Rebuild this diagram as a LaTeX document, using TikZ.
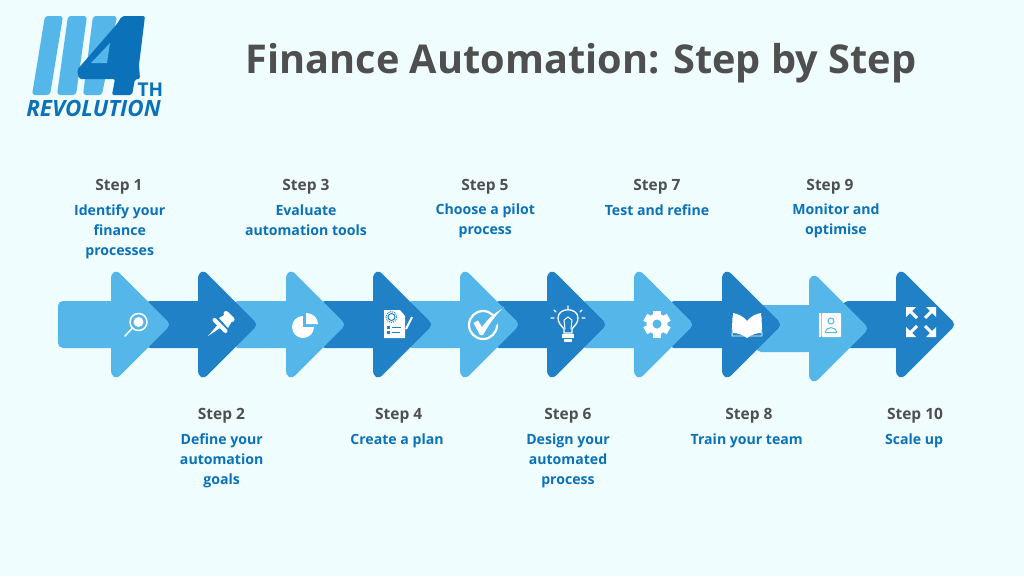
\documentclass[tikz,border=0pt]{standalone}
\usepackage{fontspec}
\setmainfont{Open Sans}
\definecolor{fondo}{HTML}{EFFDFF}
\definecolor{claro}{HTML}{54B6E9}
\definecolor{oscuro}{HTML}{2181C6}
\definecolor{logoazul}{HTML}{0B72B9}
\definecolor{gris}{HTML}{4F4F4F}
\tikzset{
    steptitle/.style={text=gris, font=\bfseries\fontsize{15.5}{20}\selectfont},
    steptext/.style={text=logoazul, align=center, font=\bfseries\fontsize{14.1}{19.8}\selectfont},
    icono/.style={draw=white, line width=1.5pt, line cap=round, line join=round},
}
% flecha: x de la cabeza, centro y, color
\newcommand{\flecha}[3]{
    \fill[#3, rounded corners=5pt] (#1-53,#2-23.5) rectangle (#1+5,#2+23.5);
    \fill[#3] (#1,#2+45) -- (#1,#2-45) .. controls (#1,#2-53.5) and (#1+5.5,#2-55.5) .. (#1+10.6,#2-49.4) -- (#1+56.5,#2-3.5) .. controls (#1+58.6,#2-1.4) and (#1+58.6,#2+1.4) .. (#1+56.5,#2+3.5) -- (#1+10.6,#2+49.4) .. controls (#1+5.5,#2+55.5) and (#1,#2+53.5) .. (#1,#2+45) -- cycle;
}
\begin{document}
\begin{tikzpicture}[x=1pt,y=-1pt]
    \useasboundingbox (0,0) rectangle (1024,576);
    \fill[fondo] (0,0) rectangle (1024,576);

    % Logo
    \fill[claro, rounded corners=3pt] (45,16) -- (63,16) -- (50,95) -- (32,95) -- cycle;
    \fill[claro, rounded corners=3pt] (68,16) -- (87,16) -- (76,95) -- (57,95) -- cycle;
    \fill[claro, rounded corners=3pt] (93,16) -- (117,16) -- (102,95) -- (83,95) -- cycle;
    \fill[logoazul, rounded corners=2pt] (122,16) -- (145,16) -- (139,65) -- (140,79) -- (135,79) -- (132,95) -- (112,95) -- (115,79) -- (79,79) -- (77,70) -- (117,24) -- cycle;
    \fill[claro] (110,43) -- (107,63) -- (91,63) -- cycle;
    \node[inner sep=0pt, text=logoazul, font=\bfseries\fontsize{19}{19}\selectfont] (logoth) at (150.5,89.5) {TH};
    \node[inner sep=0pt, text=logoazul, font=\bfseries\itshape\fontsize{22.4}{22}\selectfont] (logorev) at (93.5,108) {REVOLUTION};

    % Titulo
    \node[text=gris, font=\bfseries\fontsize{39.7}{40}\selectfont] (titulo) at (581,63) {Finance Automation: Step by Step};

    % Las flechas, de derecha a izquierda
    \foreach \x/\y/\c in {896/324.5/oscuro, 809/328.5/claro, 722/324.5/oscuro, 634/324.5/claro, 547/324.5/oscuro, 460/324.5/claro, 373/324.5/oscuro, 286/324.5/claro, 198/324.5/oscuro, 111/324.5/claro}{
        \flecha{\x}{\y}{\c}
    }

    % Lupa
    \draw[icono] (138.5,322) circle (8.5);
    \fill[white] (138.5,322) circle (5);
    \draw[icono] (132.5,328) -- (125,336);
    % Chincheta
    \fill[white] (208,336) -- (217.5,325) -- (220,328) -- cycle;
    \draw[white, line width=4pt, line cap=round] (214.5,320) -- (225.5,331);
    \fill[white] (219,318) -- (226,314) -- (232,321) -- (228,328) -- cycle;
    \draw[white, line width=5pt, line cap=round] (226,313.5) -- (232,319.5);
    % Tarta
    \fill[white] (303,327) circle (11);
    \fill[claro] (303,327) rectangle (316,312);
    \fill[white] (306,324) -- (306,313) .. controls (313,313) and (318,318) .. (318,324) -- cycle;
    % Documento
    \fill[white] (384,310) -- (400,310) -- (405,316) -- (405,338) -- (384,338) -- cycle;
    \draw[oscuro, line width=1pt] (391.5,317) circle (3.5);
    \draw[oscuro, line width=1pt, densely dotted] (391.5,317) circle (5.5);
    \fill[oscuro] (387,326) rectangle (390,329);
    \fill[oscuro] (387,331) rectangle (390,334);
    \draw[oscuro, line width=1pt] (392,327.5) -- (401,327.5) (392,332.5) -- (400,332.5);
    \draw[white, line width=2pt] (406,329) -- (412,317);
    % Visto bueno
    \draw[icono, line width=2.2pt] (483,325) circle (14);
    \fill[claro] (484,326) -- (504,306) -- (504,316) -- (487,336) -- cycle;
    \fill[white] (473.5,323) -- (478,320.5) -- (482,327) .. controls (488,319) and (494,313) .. (502,309) .. controls (494,317) and (488,326) .. (483,335) -- (480,335) -- cycle;
    % Bombilla
    \draw[icono, line width=1.3pt] (564,333) -- (564,329) .. controls (561,325) and (558,323) .. (558,318) .. controls (558,307) and (578,307) .. (578,318) .. controls (578,323) and (575,325) .. (572,329) -- (572,333) -- cycle;
    \draw[icono, line width=1pt] (565,329) -- (564,320) -- (568,317) -- (572,320) -- (571,329);
    \fill[white] (562,334) rectangle (574,338);
    \fill[white] (564,339) rectangle (572,342);
    \draw[icono, line width=1.2pt] (568,306) -- (568,309) (554,310) -- (556,312) (582,310) -- (580,312) (554,318) -- (551,318) (582,318) -- (585,318);
    % Engranaje
    \foreach \a in {0,60,120}
        \fill[white, rotate around={\a:(657,324)}] (653,310.5) rectangle (661,337.5);
    \fill[white] (657,324) circle (10.5);
    \fill[claro] (657,324) circle (4.5);
    % Libro
    \fill[white] (747,321) .. controls (743,316) and (738,314) .. (733,313) -- (733,333) .. controls (738,333) and (743,335) .. (747,338) .. controls (751,335) and (756,333) .. (761,333) -- (761,313) .. controls (756,314) and (751,316) .. (747,321) -- cycle;
    \draw[icono, line width=.8pt] (733,316) -- (732,336) -- (762,336) -- (761,316);
    % Agenda
    \fill[white, rounded corners=1pt] (821.5,313) rectangle (841,337);
    \fill[white] (819,313) rectangle (820.5,337);
    \draw[claro, line width=1pt] (831,321) circle (3);
    \draw[claro, line width=1pt] (825.5,332.5) -- (836.5,332.5) .. controls (836.5,326) and (825.5,326) .. (825.5,332.5) -- cycle;
    % Expandir
    \foreach \sx/\sy in {1/1, 1/-1, -1/1, -1/-1}{
        \fill[white] (921+15*\sx,322+15*\sy) -- (921+5*\sx,322+15*\sy) -- (921+15*\sx,322+5*\sy) -- cycle;
        \draw[white, line width=3pt] (921+11*\sx,322+11*\sy) -- (921+4*\sx,322+4*\sy);
    }

    % Textos de los pasos
    \foreach \n/\x/\y in {1/119/187, 2/221.5/416, 3/306/187, 4/398.7/416, 5/485/187, 6/568/416, 7/657/187, 8/749/416, 9/830/187, 10/915/416}
        \node[steptitle] (paso\n) at (\x,\y) {Step \n};
    \node[steptext] (texto1) at (119.7,232) {Identify your\\finance\\processes};
    \node[steptext] (texto2) at (221.7,461) {Define your\\automation\\goals};
    \node[steptext] (texto3) at (306,220.5) {Evaluate\\automation tools};
    \node[steptext] (texto4) at (397,441) {Create a plan};
    \node[steptext] (texto5) at (485.3,221) {Choose a pilot\\process};
    \node[steptext] (texto6) at (568,461) {Design your\\automated\\process};
    \node[steptext] (texto7) at (657,210.5) {Test and refine};
    \node[steptext] (texto8) at (746.7,441) {Train your team};
    \node[steptext] (texto9) at (836,221) {Monitor and\\optimise};
    \node[steptext] (texto10) at (914,441) {Scale up};
\end{tikzpicture}
\end{document}
